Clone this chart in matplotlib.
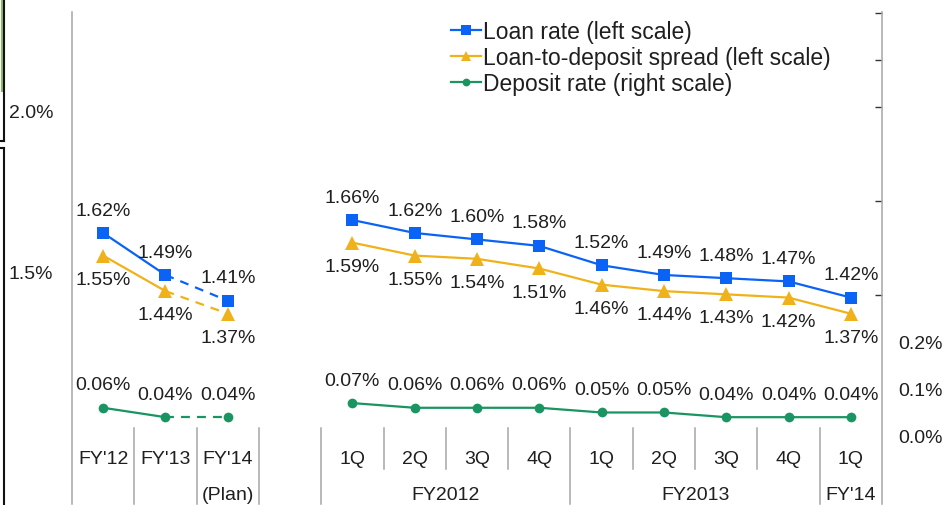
import numpy as np
import matplotlib
matplotlib.use("Agg")
import matplotlib.pyplot as plt
from matplotlib.lines import Line2D
from matplotlib.transforms import IdentityTransform

plt.rcParams['font.family'] = ['Liberation Sans', 'DejaVu Sans']

# ---------------- data ----------------
annual_labels = ["FY'12", "FY'13", "FY'14\n(Plan)"]
annual_loan = [1.62, 1.49, 1.41]
annual_spread = [1.55, 1.44, 1.37]
annual_deposit = [0.06, 0.04, 0.04]

quarter_labels = ['1Q', '2Q', '3Q', '4Q', '1Q', '2Q', '3Q', '4Q', '1Q']
quarter_groups = ['FY2012', 'FY2013', "FY'14"]
quarter_group_sizes = [4, 4, 1]
q_loan = [1.66, 1.62, 1.60, 1.58, 1.52, 1.49, 1.48, 1.47, 1.42]
q_spread = [1.59, 1.55, 1.54, 1.51, 1.46, 1.44, 1.43, 1.42, 1.37]
q_deposit = [0.07, 0.06, 0.06, 0.06, 0.05, 0.05, 0.04, 0.04, 0.04]

series_names = ['Loan rate (left scale)', 'Loan-to-deposit spread (left scale)',
                'Deposit rate (right scale)']
left_ticks = [1.5, 2.0]
right_ticks = [0.0, 0.1, 0.2]
right_marks = [0.1, 0.3, 0.5, 0.7, 0.8, 0.9]

# ---------------- style ----------------
C_BLUE = '#0B63F6'
C_GOLD = '#F0B21A'
C_GREEN = '#1A9461'
C_GRID = '#A6A6A6'
C_TEXT = '#1f1f1f'
FS = 14
LW = 1.6
DASH = (0, (4, 3.2))

W, H = 947, 506
fig = plt.figure(figsize=(W / 100, H / 100), dpi=100)
ax = fig.add_axes([72 / W, 1 - 505 / H, 810 / W, 492 / H])
ax2 = ax.twinx()

n_a = len(annual_labels)
ax_x = np.arange(n_a)
q_x = np.arange(len(quarter_labels)) + n_a + 1
n_slots = n_a + 1 + len(quarter_labels)
ax.set_xlim(-0.5, n_slots - 0.5)
ax.set_ylim(0.781, 2.304)
ax2.set_ylim(-0.1447, 0.902)


def draw_series(a, xs, ys, color, marker, ms, dashed_last):
    if dashed_last:
        a.plot(xs[:-1], ys[:-1], color=color, lw=LW, solid_capstyle='round')
        a.plot(xs[-2:], ys[-2:], color=color, lw=LW, linestyle=DASH)
        a.plot(xs, ys, linestyle='none', marker=marker, ms=ms, color=color,
               markeredgewidth=0)
        return None
    h, = a.plot(xs, ys, color=color, lw=LW, marker=marker, ms=ms,
                markeredgewidth=0)
    return h


def label_series(a, xs, ys, dy):
    for x, v in zip(xs, ys):
        a.annotate(f"{v:.2f}%", (x, v), xytext=(0, dy), textcoords='offset points',
                   ha='center', va='center', fontsize=FS, color=C_TEXT)


specs = [
    (ax, annual_loan, q_loan, C_BLUE, 's', 9, 16.5),
    (ax, annual_spread, q_spread, C_GOLD, '^', 9.5, -17),
    (ax2, annual_deposit, q_deposit, C_GREEN, 'o', 7, 16.5),
]
handles = []
for a, av, qv, col, mk, ms, dy in specs:
    draw_series(a, ax_x, av, col, mk, ms, True)
    h = draw_series(a, q_x, qv, col, mk, ms, False)
    handles.append(h)
    label_series(a, ax_x, av, dy)
    label_series(a, q_x, qv, dy)

# ---------------- axes styling ----------------
for a in (ax, ax2):
    a.set_xticks([])
    for s in ('top', 'bottom'):
        a.spines[s].set_visible(False)
ax.spines['right'].set_visible(False)
ax2.spines['left'].set_visible(False)
ax.spines['left'].set_color(C_GRID)
ax.spines['left'].set_linewidth(1.1)
ax2.spines['right'].set_color(C_GRID)
ax2.spines['right'].set_linewidth(1.1)

ax.set_yticks(left_ticks)
ax.set_yticklabels([f"{v:.1f}%" for v in left_ticks])
ax.tick_params(axis='y', which='major', length=0, pad=13.5, labelsize=FS,
               labelcolor=C_TEXT)
ax.set_yticks([left_ticks[0]], minor=True)
ax.tick_params(axis='y', which='minor', direction='in', length=3, width=1,
               color='#333333')

ax2.set_yticks(right_ticks)
ax2.set_yticklabels([f"{v:.1f}%" for v in right_ticks])
ax2.tick_params(axis='y', which='major', length=0, pad=11.5, labelsize=FS,
                labelcolor=C_TEXT)
ax2.set_yticks(right_marks, minor=True)
ax2.tick_params(axis='y', which='minor', direction='in', length=5, width=1,
                color='#333333')

# ---------------- category axis ----------------
tr = ax.get_xaxis_transform()
Y_TOP, Y_SHORT, Y_BOT = 0.1545, 0.0711, 0.0
ROW1, ROW2 = 0.0915, 0.0203

# annual separators (all full height)
for b in np.arange(n_a) + 0.5:
    ax.plot([b, b], [Y_TOP, Y_BOT], transform=tr, color=C_GRID, lw=1.1, clip_on=False)
for x, lab in zip(ax_x, annual_labels):
    parts = lab.split('\n')
    ax.text(x, ROW1, parts[0], transform=tr, ha='center', va='center',
            fontsize=FS, color=C_TEXT)
    if len(parts) > 1:
        ax.text(x, ROW2, parts[1], transform=tr, ha='center', va='center',
                fontsize=FS, color=C_TEXT)

# quarterly separators and labels
start = q_x[0] - 0.5
ax.plot([start, start], [Y_TOP, Y_BOT], transform=tr, color=C_GRID, lw=1.1, clip_on=False)
for x, lab in zip(q_x, quarter_labels):
    ax.text(x, ROW1, lab, transform=tr, ha='center', va='center',
            fontsize=FS, color=C_TEXT)
pos = start
for g, n in zip(quarter_groups, quarter_group_sizes):
    for k in range(1, n):
        b = pos + k
        ax.plot([b, b], [Y_TOP, Y_SHORT], transform=tr, color=C_GRID, lw=1.1,
                clip_on=False)
    end = pos + n
    if end < n_slots - 0.5:
        ax.plot([end, end], [Y_TOP, Y_BOT], transform=tr, color=C_GRID, lw=1.1,
                clip_on=False)
    ax.text((pos + end) / 2, ROW2, g, transform=tr, ha='center', va='center',
            fontsize=FS, color=C_TEXT)
    pos = end

# ---------------- legend ----------------
leg = fig.legend(handles, series_names, loc='upper left',
                 bbox_to_anchor=(451 / W, 1 - 21 / H), frameon=False,
                 fontsize=16.5, handlelength=1.3, handletextpad=0.1,
                 labelspacing=0.14, borderpad=0, borderaxespad=0, markerscale=0.8)
for t in leg.get_texts():
    t.set_color(C_TEXT)

# ---------------- left-edge screenshot frame remnants ----------------
def px_line(xs, ys, color, lw):
    fig.add_artist(Line2D(xs, [H - y for y in ys], transform=IdentityTransform(),
                          color=color, lw=lw))

px_line([1.5, 1.5], [0, 92], '#8DB86B', 1.5)
px_line([3.5, 3.5], [0, 142], '#111111', 1.5)
px_line([0, 3.5], [142, 142], '#111111', 1.5)
px_line([0, 3.5], [149, 149], '#111111', 1.5)
px_line([3.5, 3.5], [149, 506], '#111111', 1.5)

fig.savefig('out.png', dpi=100)
